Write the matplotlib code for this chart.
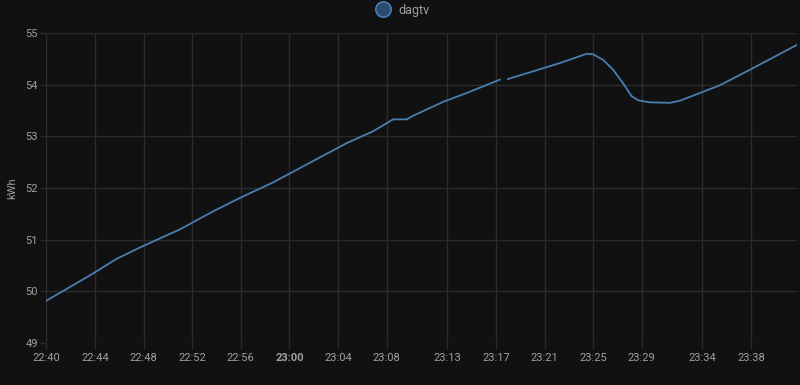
import numpy as np
import pandas as pd
import matplotlib
matplotlib.use("Agg")
import matplotlib.pyplot as plt
from matplotlib.lines import Line2D

# ------------------------------------------------------------------
# data (time of day, kWh), NaN marks the gap
times = ["22:40:00", "22:43:35", "22:45:47", "22:47:42", "22:50:59", "22:53:44",
         "22:55:56", "22:58:40", "23:01:41", "23:04:43", "23:06:54", "23:08:32",
         "23:09:39", "23:10:11", "23:12:40", "23:14:35", "23:17:20", "23:17:40",
         "23:17:59", "23:22:16", "23:24:28", "23:25:00", "23:25:50", "23:26:39",
         "23:27:28", "23:28:10", "23:28:43", "23:29:40", "23:31:19", "23:32:08",
         "23:33:47", "23:35:26", "23:37:54", "23:41:46"]
kwh = [49.82, 50.31, 50.63, 50.85, 51.20, 51.55,
       51.81, 52.11, 52.49, 52.87, 53.10, 53.33,
       53.33, 53.40, 53.67, 53.84, 54.10, np.nan,
       54.11, 54.42, 54.60, 54.59, 54.48, 54.29,
       54.03, 53.78, 53.70, 53.66, 53.65, 53.69,
       53.84, 53.99, 54.29, 54.77]

tick_labels = ["22:40", "22:44", "22:48", "22:52", "22:56", "23:00", "23:04", "23:08",
               "23:13", "23:17", "23:21", "23:25", "23:29", "23:34", "23:38"]
y_ticks = [49, 50, 51, 52, 53, 54, 55]

day = "2024-01-01 "
t = pd.to_datetime([day + s for s in times])
t_ticks = pd.to_datetime([day + s for s in tick_labels])

# ------------------------------------------------------------------
# colours
bg = "#111111"
grid_c = "#2b2b2b"
txt_c = "#a0a0a0"
line_c = "#4a7eb2"

plt.rcParams["font.family"] = ["Roboto", "DejaVu Sans"]

fig = plt.figure(figsize=(8, 3.85), dpi=100, facecolor=bg)
ax = fig.add_axes([0.058, 0.109, 0.938, 0.805], facecolor=bg)

ax.plot(t, kwh, color=line_c, linewidth=1.3)

ax.set_xlim(t[0], t[-1])
ax.set_ylim(49, 55)
ax.set_yticks(y_ticks)
ax.set_yticklabels([str(v) for v in y_ticks])
ax.set_xticks(t_ticks)
ax.set_xticklabels(tick_labels)
for lab in ax.get_xticklabels():
    if lab.get_text() == "23:00":
        lab.set_fontweight("bold")

ax.grid(True, color=grid_c, linewidth=1)
ax.set_axisbelow(True)
for s in ax.spines.values():
    s.set_visible(False)
ax.tick_params(colors=txt_c, labelsize=8, length=4, width=1)
ax.tick_params(axis="x", color=grid_c, pad=3)
ax.tick_params(axis="y", color=grid_c, pad=2)
ax.set_ylabel("kWh", color=txt_c, fontsize=8, labelpad=6)

# legend at the top
handle = Line2D([], [], marker="o", linestyle="none", markersize=11,
                markerfacecolor="#2c4a6b", markeredgecolor="#4a7eb2",
                markeredgewidth=1.2)
leg = fig.legend([handle], ["dagtv"], loc="upper center", bbox_to_anchor=(0.5, 1.02),
                 frameon=False, fontsize=9, handletextpad=0.2, labelcolor=txt_c)

fig.savefig("out.png", dpi=100, facecolor=bg)
